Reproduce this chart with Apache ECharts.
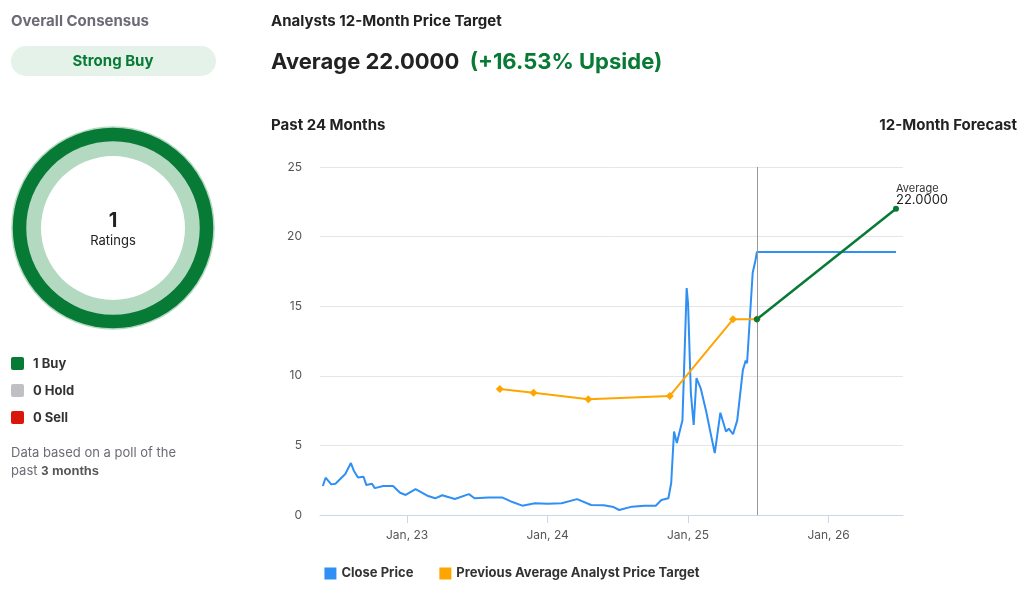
<!DOCTYPE html>
<html><head><meta charset="utf-8">
<script src="https://cdn.jsdelivr.net/npm/echarts@6/dist/echarts.min.js"></script>
<style>html,body{margin:0;padding:0;background:#fff}#c{width:1024px;height:597px}</style>
</head><body><div id="c"></div>
<script>
const closeYears = [2022.40,2022.42,2022.46,2022.49,2022.56,2022.60,2022.62,2022.65,2022.69,2022.71,2022.75,2022.77,2022.83,2022.90,2022.95,2022.99,2023.06,2023.15,2023.20,2023.25,2023.34,2023.44,2023.48,2023.58,2023.68,2023.75,2023.82,2023.91,2024.00,2024.10,2024.21,2024.31,2024.40,2024.47,2024.51,2024.60,2024.69,2024.77,2024.81,2024.86,2024.88,2024.90,2024.92,2024.96,2024.99,2025.00,2025.02,2025.04,2025.06,2025.09,2025.13,2025.16,2025.19,2025.23,2025.27,2025.29,2025.32,2025.35,2025.39,2025.41,2025.42,2025.46,2025.48,2025.49,2026.48];
const closeValues = [2.08,2.68,2.2,2.25,2.94,3.73,3.2,2.7,2.75,2.15,2.25,1.93,2.08,2.08,1.6,1.44,1.86,1.36,1.2,1.42,1.15,1.5,1.2,1.25,1.25,0.93,0.67,0.85,0.8,0.85,1.14,0.72,0.7,0.57,0.36,0.6,0.67,0.67,1.08,1.2,2.3,6.0,5.17,6.8,16.3,15.2,8.76,6.47,9.84,9.1,7.4,5.9,4.45,7.35,6.0,6.2,5.8,6.8,10.4,11.1,10.9,17.4,18.3,18.9,18.9];
const targetYears = [2023.66,2023.90,2024.29,2024.87,2025.32,2025.49];
const targetValues = [9.05,8.79,8.31,8.55,14.06,14.06];
const forecastYears = [2025.49,2026.48];
const forecastValues = [14.06,22.0];
const forecastHigh = 22.0;
const tickYears = [2023,2024,2025,2026];
const ratingNames = ['Buy','Hold','Sell'];
const ratingCounts = [1,0,0];

const chart = echarts.init(document.getElementById('c'));
const F = 'Inter, "Noto Sans", sans-serif';
const zip = (a,b)=>a.map((x,i)=>[x,b[i]]);
chart.setOption({
  animation:false,
  textStyle:{fontFamily:F},
  grid:{left:320,right:121,top:167,bottom:82},
  xAxis:{type:'value',min:2022.38,max:2026.53,
    axisLine:{lineStyle:{color:'#ccd6eb'}},
    axisTick:{show:true,customValues:tickYears,lineStyle:{color:'#ccd6eb'},length:8},
    axisLabel:{customValues:tickYears,color:'#555',fontSize:12,margin:14,formatter:v=>'Jan, '+String(Math.round(v)).slice(2)},
    splitLine:{show:false}},
  yAxis:{type:'value',min:0,max:25,interval:5,axisLine:{show:false},axisTick:{show:false},
    axisLabel:{color:'#555',fontSize:12,margin:18},splitLine:{lineStyle:{color:'#e6e6e6'}}},
  legend:{bottom:12,left:'center',icon:'rect',itemWidth:12,itemHeight:12,itemGap:26,
    textStyle:{fontSize:13,fontWeight:'bold',color:'#333'},
    data:['Close Price','Previous Average Analyst Price Target']},
  series:[
    {name:'Close Price',type:'line',data:zip(closeYears,closeValues),showSymbol:false,
      lineStyle:{color:'#2f8ff5',width:2},itemStyle:{color:'#2f8ff5'},
      markLine:{silent:true,symbol:'none',label:{show:false},lineStyle:{color:'#999',type:'solid',width:1},
        data:[[{coord:[forecastYears[0],0]},{coord:[forecastYears[0],25]}]]}},
    {name:'Previous Average Analyst Price Target',type:'line',data:zip(targetYears,targetValues),
      symbol:'diamond',symbolSize:8,lineStyle:{color:'#ffa500',width:2},itemStyle:{color:'#ffa500'}},
    {name:'forecast',type:'line',stack:'f',data:zip(forecastYears,forecastValues),symbol:'circle',symbolSize:6,
      lineStyle:{color:'#077a35',width:2.5},itemStyle:{color:'#077a35'},z:5,
      label:{show:true,position:'right',formatter:p=>p.dataIndex===1?'{a|Average}\n{b|'+forecastHigh.toFixed(4)+'}':'',
        rich:{a:{fontSize:11,color:'#333',align:'left'},b:{fontSize:13,color:'#222',align:'left'}},offset:[-8,-14]}},
    {name:'band',type:'line',stack:'f',data:zip(forecastYears,forecastValues.map(v=>forecastHigh-v)),showSymbol:false,
      lineStyle:{opacity:0},areaStyle:{color:'rgba(200,185,170,0.35)'},z:1},
    {type:'pie',center:[113,228],radius:[86,101],silent:true,label:{show:false},
      startAngle:90,
      itemStyle:{borderColor:'#b3d9c0',borderWidth:1.5},
      data:ratingNames.map((n,i)=>({name:n,value:ratingCounts[i],itemStyle:{color:['#077a35','#bbb','#d9170b'][i]}})).filter(d=>d.value>0)},
    {type:'pie',center:[113,228],radius:[72,86],silent:true,label:{show:false},
      data:[{value:1,itemStyle:{color:'#b3d9c0'}}]}
  ],
  graphic:[
    {type:'text',left:11,top:14,style:{text:'Overall Consensus',fontSize:15,fontWeight:'bold',fill:'#6b6b76',fontFamily:F}},
    {type:'rect',shape:{x:11,y:46,width:205,height:30,r:15},style:{fill:'#e4f2ea'}},
    {type:'text',x:113,y:61,style:{text:'Strong Buy',fontSize:15,fontWeight:'bold',fill:'#077a35',align:'center',verticalAlign:'middle',fontFamily:F}},
    {type:'text',x:113,y:221,style:{text:'1',fontSize:20,fontWeight:'bold',fill:'#222',align:'center',verticalAlign:'middle',fontFamily:F}},
    {type:'text',x:113,y:241,style:{text:'Ratings',fontSize:13,fill:'#222',align:'center',verticalAlign:'middle',fontFamily:F}},
    {type:'rect',shape:{x:11,y:357,width:13,height:13,r:2},style:{fill:'#077a35'}},
    {type:'rect',shape:{x:11,y:384,width:13,height:13,r:2},style:{fill:'#bfbfc4'}},
    {type:'rect',shape:{x:11,y:411,width:13,height:13,r:2},style:{fill:'#d9170b'}},
    {type:'text',x:33,y:364,style:{text:ratingCounts[0]+' '+ratingNames[0],fontSize:13,fontWeight:'bold',fill:'#333',verticalAlign:'middle',fontFamily:F}},
    {type:'text',x:33,y:391,style:{text:ratingCounts[1]+' '+ratingNames[1],fontSize:13,fontWeight:'bold',fill:'#333',verticalAlign:'middle',fontFamily:F}},
    {type:'text',x:33,y:418,style:{text:ratingCounts[2]+' '+ratingNames[2],fontSize:13,fontWeight:'bold',fill:'#333',verticalAlign:'middle',fontFamily:F}},
    {type:'text',x:11,y:447,style:{text:'Data based on a poll of the',fontSize:13,fill:'#6b6b76',fontFamily:F}},
    {type:'text',x:11,y:465,style:{text:'past {b|3 months}',fontSize:13,fill:'#6b6b76',fontFamily:F,rich:{b:{fontWeight:'bold',fontSize:13,fill:'#555'}}}},
    {type:'text',x:271,y:14,style:{text:'Analysts 12-Month Price Target',fontSize:15,fontWeight:'bold',fill:'#222',fontFamily:F}},
    {type:'text',x:271,y:51,style:{text:'Average 22.0000  {g|(+16.53% Upside)}',fontSize:22,fontWeight:'bold',fill:'#222',fontFamily:F,
      rich:{g:{fontSize:22,fontWeight:'bold',fill:'#077a35',fontFamily:F}}}},
    {type:'text',x:271,y:118,style:{text:'Past 24 Months',fontSize:15,fontWeight:'bold',fill:'#222',fontFamily:F}},
    {type:'text',x:1017,y:118,style:{text:'12-Month Forecast',fontSize:15,fontWeight:'bold',fill:'#222',align:'right',fontFamily:F}}
  ]
});
</script></body></html>
